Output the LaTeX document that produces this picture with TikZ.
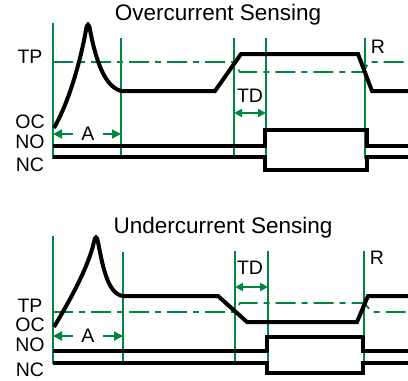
\documentclass[tikz,border=0pt]{standalone}
\usepackage{fontspec}
\setmainfont{Liberation Sans}
\usetikzlibrary{arrows.meta}
\definecolor{grn}{RGB}{0,133,62}
\begin{document}
\begin{tikzpicture}[x=1pt,y=-1pt,
  sig/.style={line width=4pt,black,line join=miter},
  gl/.style={line width=1.8pt,grn},
  tpline/.style={line width=1.8pt,grn,dash pattern=on 20pt off 6pt on 6pt off 6pt},
  lab/.style={font=\fontsize{19.5}{20}\selectfont,inner sep=0pt},
  ttl/.style={font=\fontsize{22.5}{24}\selectfont,inner sep=0pt},
  dim/.style={line width=1.8pt,grn,-{Triangle[length=9pt,width=9pt]}},
  ddim/.style={line width=1.8pt,grn,{Triangle[length=8pt,width=8pt]}-{Triangle[length=8pt,width=8pt]}}]
\useasboundingbox (0,0) rectangle (408,381);
% ===== Overcurrent =====
\node[ttl] (t1) at (218,15) {Overcurrent Sensing};
\node[lab] (tp1) at (30,57) {TP};
\node[lab] (oc1) at (30,122) {OC};
\node[lab] (no1) at (30,142) {NO};
\node[lab] (nc1) at (30,165) {NC};
% verticals
\draw[gl] (53,23) -- (53,159);
\draw[gl] (121,38) -- (121,159);
\draw[gl] (234,38) -- (234,159);
\draw[gl] (266,38) -- (266,159);
\draw[gl] (365,38) -- (365,159);
% trip point
\draw[tpline] (53,62) -- (234,62) -- (240,72) -- (363,72) -- (369,62) -- (408,62);
% signal
\draw[sig] (54,128) .. controls (70,100) and (81,58) .. (86,30)
  .. controls (87,23) and (89,23) .. (90,30)
  .. controls (96,60) and (104,86) .. (121,91) -- (215,91) -- (241,54) -- (358,54) -- (372,91) -- (408,91);
% contacts
\draw[sig] (53,146) -- (265,146) -- (265,130) -- (367,130) -- (367,146) -- (408,146);
\draw[sig] (53,157) -- (265,157) -- (265,170) -- (367,170) -- (367,157) -- (408,157);
% A
\node[lab] (a1) at (88,134) {A};
\coordinate (a1l) at (53,134);
\coordinate (a1r) at (121,134);
\draw[dim] ([xshift=-8pt]a1.west) -- (a1l);
\draw[dim] ([xshift=8pt]a1.east) -- (a1r);
% TD, R
\node[lab] (td1) at (250,96) {TD};
\coordinate (td1l) at (234,113);
\coordinate (td1r) at (266,113);
\draw[ddim] (td1l) -- (td1r);
\node[lab] (r1) at (378,47) {R};
% ===== Undercurrent =====
\node[ttl] (t2) at (223,228) {Undercurrent Sensing};
\node[lab] (tp2) at (30,306) {TP};
\node[lab] (oc2) at (30,325) {OC};
\node[lab] (no2) at (30,345) {NO};
\node[lab] (nc2) at (30,370) {NC};
\draw[gl] (53,236) -- (53,364);
\draw[gl] (123,252) -- (123,364);
\draw[gl] (235,251) -- (235,364);
\draw[gl] (268,251) -- (268,364);
\draw[gl] (364,251) -- (364,364);
\draw[tpline] (53,312) -- (235,312) -- (240,303) -- (364,303) -- (372,312) -- (408,312);
\draw[sig] (54,327) .. controls (70,300) and (88,268) .. (94,242)
  .. controls (95,236) and (97,236) .. (98,242)
  .. controls (103,268) and (108,294) .. (123,296) -- (218,296) -- (247,322) -- (357,322) -- (368,296) -- (408,296);
\draw[sig] (53,351) -- (267,351) -- (267,337) -- (363,337) -- (363,351) -- (408,351);
\draw[sig] (53,363) -- (267,363) -- (267,373) -- (363,373) -- (363,363) -- (408,363);
\node[lab] (a2) at (88,336) {A};
\coordinate (a2l) at (53,336);
\coordinate (a2r) at (123,336);
\draw[dim] ([xshift=-8pt]a2.west) -- (a2l);
\draw[dim] ([xshift=8pt]a2.east) -- (a2r);
\node[lab] (td2) at (250,268) {TD};
\coordinate (td2l) at (235,287);
\coordinate (td2r) at (268,287);
\draw[ddim] (td2l) -- (td2r);
\node[lab] (r2) at (377,258) {R};
\end{tikzpicture}
\end{document}
